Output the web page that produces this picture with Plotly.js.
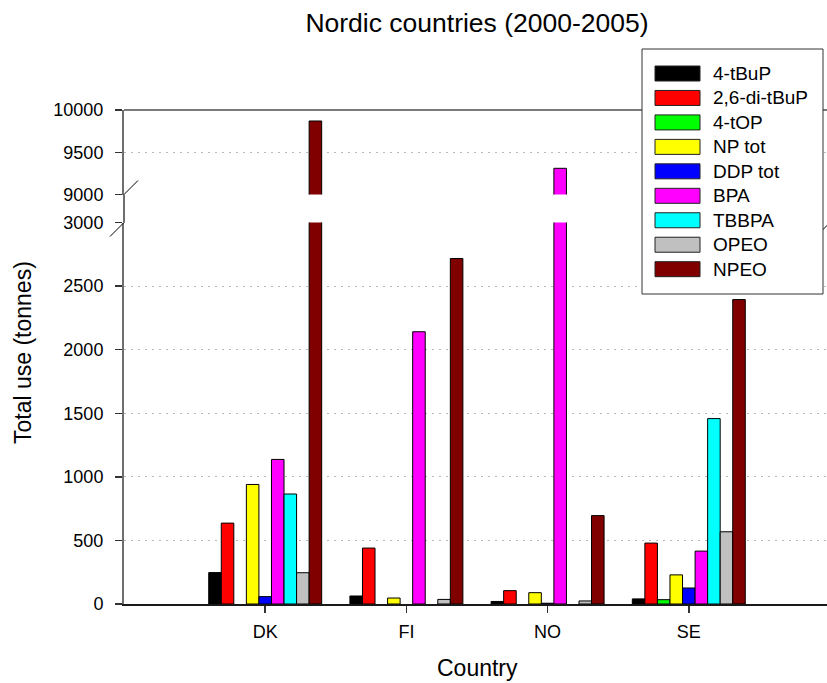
<!DOCTYPE html>
<html>
<head>
<meta charset="utf-8">
<script src="https://cdn.plot.ly/plotly-3.0.1.min.js"></script>
<style>
  html, body { margin: 0; padding: 0; overflow: hidden; background: #fff; }
  #chart { width: 831px; height: 683px; }
</style>
</head>
<body>
<div id="chart"></div>
<script>
// Total use of phenolic substances per Nordic country, 2000-2005 (tonnes)
const categories = ['DK', 'FI', 'NO', 'SE'];

const seriesNames = ['4-tBuP', '2,6-di-tBuP', '4-tOP', 'NP tot', 'DDP tot', 'BPA', 'TBBPA', 'OPEO', 'NPEO'];
const seriesColors = ['#000000', '#ff0000', '#00ff00', '#ffff00', '#0000ff', '#ff00ff', '#00ffff', '#c0c0c0', '#800000'];

const tBuP4     = [247, 63, 20, 40];
const diTBuP26  = [636, 440, 105, 479];
const tOP4      = [null, null, null, 34];
const npTot     = [940, 47, 89, 229];
const ddpTot    = [58, null, 6, 126];
const bpa       = [1137, 2141, 9310, 416];
const tbbpa     = [865, null, null, 1458];
const opeo      = [246, 36, 24, 568];
const npeo      = [9870, 2717, 695, 2394];

const seriesValues = [tBuP4, diTBuP26, tOP4, npTot, ddpTot, bpa, tbbpa, opeo, npeo];

// Axis ticks for the two halves of the broken value axis
const lowerTicks = [0, 500, 1000, 1500, 2000, 2500, 3000];
const upperTicks = [9000, 9500, 10000];
const lowerRange = [0, 3000];
const upperRange = [9000, 10000];

const FONT = 'Liberation Sans, Arial, sans-serif';

// Figure geometry (pixels)
const FIG_W = 831, FIG_H = 683;
const M = { l: 124, r: 1, t: 110, b: 79 };
const PW = FIG_W - M.l - M.r;
const PH = FIG_H - M.t - M.b;
const plotBottom = FIG_H - M.b;
const px2x = px => (px - M.l) / PW;
const px2y = py => (plotBottom - py) / PH;

const upperBottomPx = 194.5;   // 9000 line
const lowerTopPx = 222.5;      // 3000 line

// Bars: one set on the lower axis, one set on the upper axis (same data)
const traces = [];
['y', 'y2'].forEach(ya => {
  seriesNames.forEach((name, i) => {
    traces.push({
      type: 'bar',
      name: name,
      x: categories,
      y: seriesValues[i],
      xaxis: 'x',
      yaxis: ya,
      marker: { color: seriesColors[i], line: { color: '#000', width: 1 } },
      showlegend: false,
      hoverinfo: 'skip'
    });
  });
});

const axisLineColor = '#6e6e6e';
const gridStyle = { showgrid: true, gridcolor: '#b8b8b8', gridwidth: 1, griddash: '2px,5px' };

const shapes = [];
const annotations = [];

// top frame line
shapes.push({ type: 'line', xref: 'paper', yref: 'paper', x0: 0, x1: 1, y0: 1, y1: 1,
  line: { color: '#7a7a7a', width: 2 } });
// left axis line through the break gap
shapes.push({ type: 'line', xref: 'paper', yref: 'paper', x0: 0, x1: 0,
  y0: px2y(lowerTopPx), y1: px2y(upperBottomPx), line: { color: axisLineColor, width: 2 } });

// break marks on both sides of the plot
[0, 1].forEach(xa => {
  [['y2', upperRange[0]], ['y', lowerRange[1]]].forEach(([yr, yv]) => {
    shapes.push({
      type: 'line', xref: 'paper', yref: yr,
      xsizemode: 'pixel', xanchor: xa, x0: -14, x1: 14,
      ysizemode: 'pixel', yanchor: yv, y0: -14, y1: 14,
      line: { color: '#000', width: 1 }
    });
  });
});

// legend box with wide colour swatches
const lg = { left: 642, top: 49, right: 823, bottom: 294, sw0: 655, sw1: 700, txt: 711, row0: 66, rowStep: 24.46, swH: 15 };
shapes.push({ type: 'rect', xref: 'paper', yref: 'paper',
  x0: px2x(lg.left), x1: px2x(lg.right), y0: px2y(lg.bottom), y1: px2y(lg.top),
  fillcolor: '#fff', line: { color: '#333', width: 1 } });
seriesNames.forEach((name, i) => {
  const top = lg.row0 + i * lg.rowStep;
  shapes.push({ type: 'rect', xref: 'paper', yref: 'paper',
    x0: px2x(lg.sw0), x1: px2x(lg.sw1), y0: px2y(top + lg.swH), y1: px2y(top),
    fillcolor: seriesColors[i], line: { color: '#222', width: 1 } });
  annotations.push({ xref: 'paper', yref: 'paper', x: px2x(lg.txt), y: px2y(top + lg.swH / 2),
    xanchor: 'left', yanchor: 'middle', showarrow: false, text: name,
    font: { family: FONT, size: 19, color: '#000' } });
});

// axis titles
annotations.push({ xref: 'paper', yref: 'paper', x: px2x(23), y: px2y(353),
  xanchor: 'center', yanchor: 'middle', textangle: -90, showarrow: false,
  text: 'Total use (tonnes)', font: { family: FONT, size: 23, color: '#000' } });
annotations.push({ xref: 'paper', yref: 'paper', x: 0.5, y: px2y(668),
  xanchor: 'center', yanchor: 'middle', showarrow: false,
  text: 'Country', font: { family: FONT, size: 23, color: '#000' } });

const tickFont = { family: FONT, size: 18, color: '#000' };

const layout = {
  width: FIG_W, height: FIG_H,
  margin: M,
  paper_bgcolor: '#fff', plot_bgcolor: '#fff',
  barmode: 'group', bargap: 0.2, bargroupgap: 0,
  showlegend: false,
  title: { text: 'Nordic countries (2000-2005)', font: { family: FONT, size: 26.5, color: '#000' },
    xref: 'paper', x: 0.5, xanchor: 'center', yref: 'container', y: 1 - 23 / FIG_H, yanchor: 'middle' },
  xaxis: {
    type: 'category', categoryorder: 'array', categoryarray: categories,
    range: [-1, 4], anchor: 'y', fixedrange: true,
    showline: true, linecolor: '#1a1a1a', linewidth: 2,
    ticks: 'outside', ticklen: 7, tickwidth: 1.5, tickcolor: '#333',
    ticklabelstandoff: 3,
    tickfont: tickFont, showgrid: false, zeroline: false
  },
  yaxis: Object.assign({
    domain: [0, px2y(lowerTopPx)], range: lowerRange, anchor: 'x',
    tickmode: 'array', tickvals: lowerTicks, ticktext: lowerTicks.map(String),
    showline: true, linecolor: axisLineColor, linewidth: 2,
    ticks: 'outside', ticklen: 7, tickwidth: 1.5, tickcolor: '#333',
    ticklabelstandoff: 8,
    tickfont: tickFont, zeroline: false, fixedrange: true
  }, gridStyle),
  yaxis2: Object.assign({
    domain: [px2y(upperBottomPx), 1], range: upperRange, anchor: 'x',
    tickmode: 'array', tickvals: upperTicks, ticktext: upperTicks.map(String),
    showline: true, linecolor: axisLineColor, linewidth: 2,
    ticks: 'outside', ticklen: 7, tickwidth: 1.5, tickcolor: '#333',
    ticklabelstandoff: 8,
    tickfont: tickFont, zeroline: false, fixedrange: true
  }, gridStyle),
  shapes: shapes,
  annotations: annotations
};

Plotly.newPlot('chart', traces, layout, { staticPlot: true, displayModeBar: false });
</script>
</body>
</html>
